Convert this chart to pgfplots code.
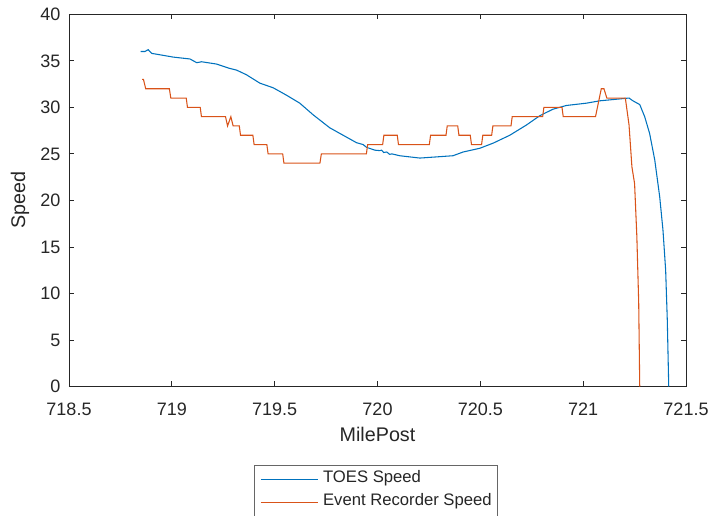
\documentclass[border=0pt]{standalone}
\usepackage{pgfplots}
\pgfplotsset{compat=1.18}
\usepackage{fontspec}
\setmainfont{Liberation Sans}

\definecolor{mlblue}{rgb}{0,0.447,0.741}
\definecolor{mlorange}{rgb}{0.85,0.325,0.098}
\definecolor{axgray}{rgb}{0.15,0.15,0.15}

\begin{document}
\begin{tikzpicture}
\useasboundingbox (-51.75pt,-97.125pt) rectangle (482.25pt,289.875pt);
\begin{axis}[
  scale only axis,
  width=462.75pt, height=279.15pt,
  xmin=718.5, xmax=721.5, ymin=0, ymax=40,
  xtick={718.5,719,719.5,720,720.5,721,721.5},
  xticklabels={718.5,719,719.5,720,720.5,721,721.5},
  ytick={0,5,10,15,20,25,30,35,40},
  yticklabels={0,5,10,15,20,25,30,35,40},
  /pgf/number format/assume math mode=true,
  tick align=inside,
  major tick length=3.75pt,
  axis line style={axgray, line width=0.6pt},
  every tick/.style={axgray, line width=0.6pt},
  ticklabel style={font=\fontsize{13.5}{16}\selectfont, text=axgray},
  xticklabel style={anchor=base, inner sep=0pt, yshift=-21.4pt},
  yticklabel style={anchor=east, inner sep=0pt, xshift=-6.2pt},
  xlabel={MilePost},
  ylabel={Speed},
  label style={font=\fontsize{14.8}{17}\selectfont, text=axgray},
  xlabel style={at={(axis description cs:0.5,-0.1483)}, anchor=base, inner sep=0pt},
  ylabel style={at={(axis description cs:-0.0713,0.5)}, rotate=0, anchor=base, inner sep=0pt},
  legend style={
    at={(axis description cs:0.3003,-0.2109)}, anchor=north west,
    draw=black!60, line width=0.5pt,
    inner xsep=4.3pt, inner ysep=2.1pt,
    row sep=0pt, column sep=3.75pt,
    font=\fontsize{12.5}{15}\selectfont,
    cells={anchor=west},
    nodes={inner sep=0pt, text height=10.875pt, text depth=6.375pt, text=axgray},
  },
  legend image code/.code={\draw[#1] (0pt,0pt) -- (42.5pt,0pt);},
]

% TOES simulated speed
\addplot[mlblue, line width=0.8pt] coordinates {
  (718.848,36.0) (718.869,36.0) (718.885,36.2) (718.902,35.8) (718.942,35.65)
  (719.007,35.4) (719.088,35.2) (719.121,34.8) (719.145,34.9) (719.218,34.65)
  (719.279,34.2) (719.315,34.0) (719.363,33.5) (719.428,32.6) (719.493,32.1)
  (719.558,31.3) (719.622,30.45) (719.687,29.2) (719.768,27.8) (719.833,27.0)
  (719.898,26.2) (719.930,26.0) (719.947,25.7) (719.987,25.4) (720.011,25.35)
  (720.020,25.4) (720.030,25.15) (720.045,25.2) (720.059,24.95) (720.070,25.0)
  (720.108,24.8) (720.206,24.55) (720.303,24.7) (720.367,24.8) (720.416,25.2)
  (720.497,25.6) (720.562,26.15) (720.643,27.0) (720.724,28.1) (720.789,29.1)
  (720.853,29.8) (720.918,30.2) (721.016,30.45) (721.080,30.7) (721.223,31.0)
  (721.242,30.7) (721.275,30.3) (721.299,29.0) (721.323,27.2) (721.348,24.35)
  (721.372,20.4) (721.388,16.8) (721.401,12.5) (721.409,7.15) (721.416,0)
};
\addlegendentry{TOES Speed}

% Event recorder speed (1 mph resolution)
\addplot[mlorange, line width=0.8pt] coordinates {
  (718.856,33) (718.862,33) (718.873,32)
  (718.988,32) (718.995,31)
  (719.070,31) (719.076,30)
  (719.138,30) (719.144,29)
  (719.261,29) (719.271,28) (719.287,29) (719.298,28)
  (719.328,28) (719.334,27)
  (719.394,27) (719.400,26)
  (719.462,26) (719.468,25)
  (719.539,25) (719.545,24)
  (719.720,24) (719.727,25)
  (719.946,25) (719.952,26)
  (720.025,26) (720.031,27)
  (720.096,27) (720.102,26)
  (720.252,26) (720.258,27)
  (720.333,27) (720.339,28)
  (720.390,28) (720.396,27)
  (720.451,27) (720.457,26)
  (720.506,26) (720.512,27)
  (720.555,27) (720.561,28)
  (720.649,28) (720.655,29)
  (720.803,29) (720.809,30)
  (720.897,30) (720.903,29)
  (721.060,29) (721.088,32) (721.101,32) (721.115,31)
  (721.205,31) (721.223,28.1) (721.237,23.6) (721.250,21.8)
  (721.261,16.1) (721.270,9.0) (721.275,0)
};
\addlegendentry{Event Recorder Speed}

\end{axis}
\end{tikzpicture}
\end{document}
